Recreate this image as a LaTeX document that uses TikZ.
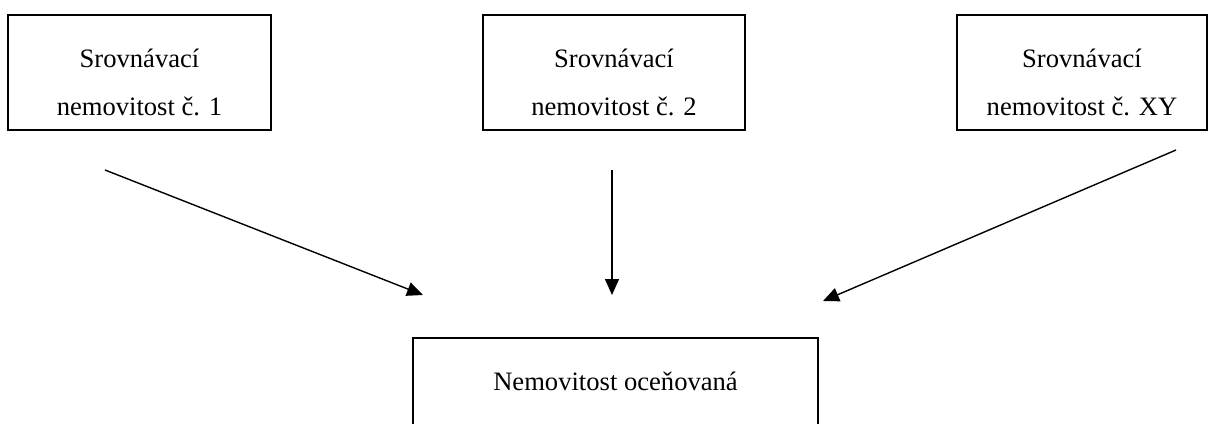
\documentclass[tikz,border=0pt]{standalone}
\usepackage{fontspec}
\setmainfont{Liberation Serif}
\usetikzlibrary{arrows.meta}

\begin{document}
\begin{tikzpicture}[x=0.5pt,y=-0.5pt]
      \tikzstyle{srovnani}=[draw=black, line width=0.9pt, align=center, inner sep=0pt,
        minimum height=57.5pt, text height=50pt, text depth=7.5pt,
        font=\fontsize{13.3}{24}\selectfont]
      \tikzstyle{oceneni_box}=[srovnani, text height=26pt, text depth=31.5pt]
      \tikzstyle{sipka}=[line width=0.7pt, -{Triangle[length=8pt,width=7pt]}]

      \clip (0,0) rectangle (1209,423);

      % srovnavaci nemovitosti
      \node [srovnani, minimum width=131.5pt] (sn1) at (139.5,72.5) {Srovnávací\\nemovitost č. 1};
      \node [srovnani, minimum width=131pt] (sn2) at (614,72.5) {Srovnávací\\nemovitost č. 2};
      \node [srovnani, minimum width=125pt] (snxy) at (1082,72.5) {Srovnávací\\nemovitost č. XY};

      % oceňovaná nemovitost
      \node [oceneni_box, minimum width=202.5pt] (oceneni) at (615.5,395.5) {Nemovitost oceňovaná};

      \coordinate (z1) at (105,170);
      \coordinate (k1) at (423,295);
      \coordinate (z2) at (612,170);
      \coordinate (k2) at (612,295);
      \coordinate (zxy) at (1176,150);
      \coordinate (kxy) at (823,301);

      \draw [sipka] (z1) -- (k1);
      \draw [sipka] (z2) -- (k2);
      \draw [sipka] (zxy) -- (kxy);
    \end{tikzpicture}
\end{document}
